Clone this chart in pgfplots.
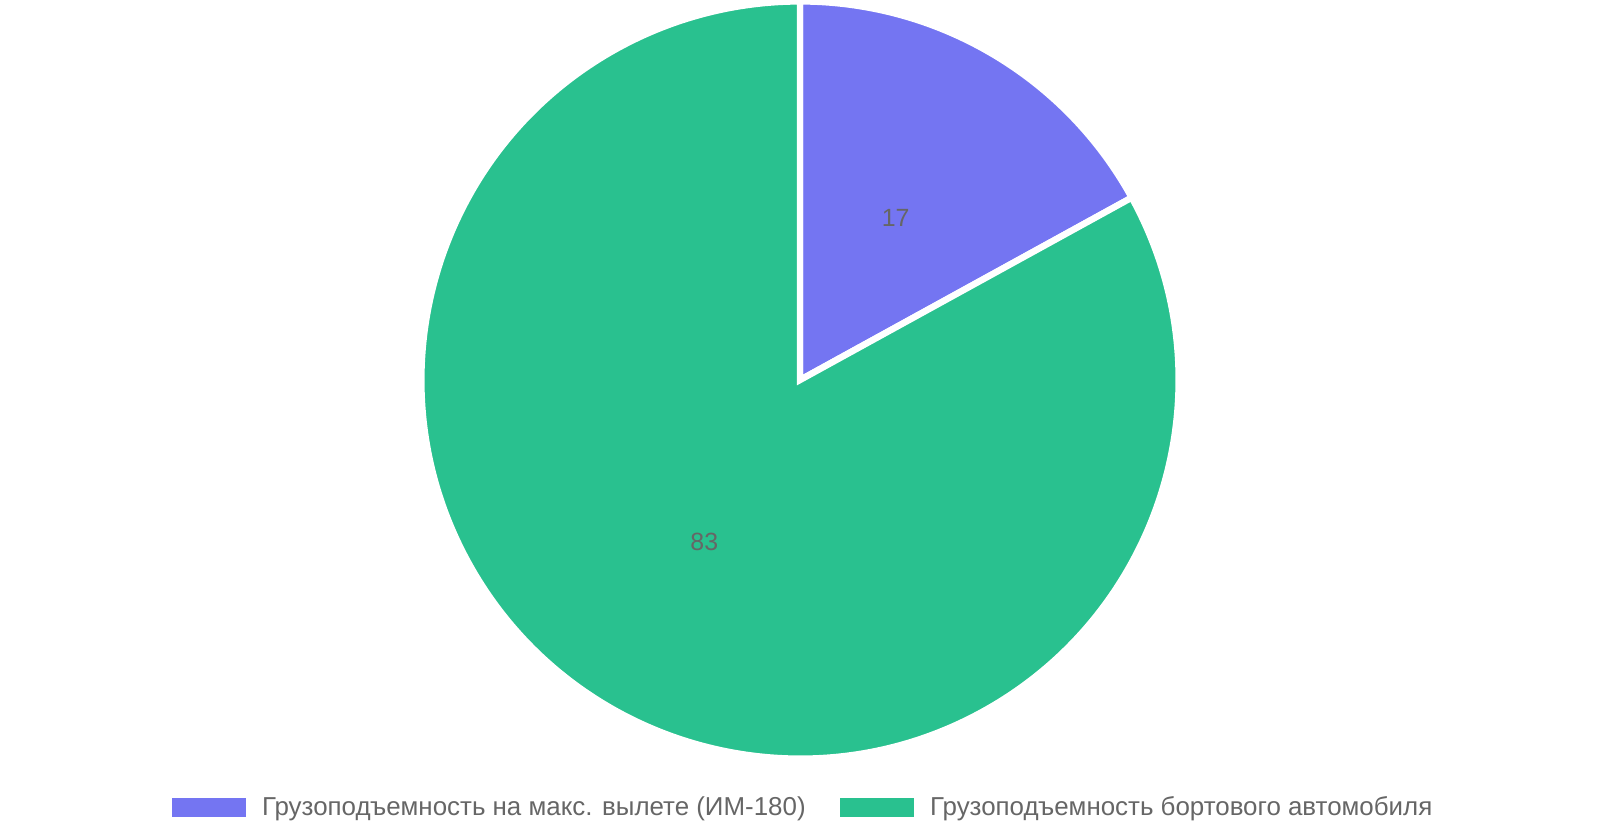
\documentclass[border=0pt]{standalone}
\usepackage{pgfplots}
\usepackage{pgfplotstable}
\pgfplotsset{compat=1.18}
\usepackage{fontspec}
\setmainfont{Liberation Sans}

\definecolor{slicepurple}{RGB}{116,117,242}
\definecolor{slicegreen}{RGB}{41,193,143}
\definecolor{labelgray}{RGB}{102,102,102}

% pie shares, in per cent
\pgfplotstableread{
share
17
83
}\piedata

\begin{document}
\begin{tikzpicture}
\useasboundingbox (0,0) rectangle (800bp,420bp);
\pgfplotstablegetelem{0}{share}\of\piedata \let\valA\pgfplotsretval
\pgfplotstablegetelem{1}{share}\of\piedata \let\valB\pgfplotsretval
\pgfmathsetmacro\total{\valA+\valB}
\pgfmathsetmacro\angA{90-\valA/\total*360}
\pgfmathsetmacro\angB{\angA-\valB/\total*360}
\pgfmathsetmacro\midA{(90+\angA)/2}
\pgfmathsetmacro\midB{(\angA+\angB)/2}
\def\rad{189.3bp}
\begin{axis}[
  at={(0,0)}, anchor=south west,
  scale only axis, width=800bp, height=420bp,
  xmin=0, xmax=1600, ymin=0, ymax=840,
  hide axis, clip=false,
  legend columns=2,
  legend style={at={(axis cs:804,32.5)}, anchor=center, draw=none, fill=none,
    font=\fontsize{13}{15}\selectfont, text=labelgray,
    /tikz/every even column/.append style={column sep=15bp}},
  legend image code/.code={\fill[#1, draw=none] (0bp,-4.75bp) rectangle (37bp,4.75bp);
    \path (43bp,0);},
]
\filldraw[fill=slicepurple, draw=white, line width=3.2bp]
  (axis cs:800,460) -- ++(90:\rad) arc[start angle=90, end angle=\angA, radius=\rad] -- cycle;
\filldraw[fill=slicegreen, draw=white, line width=3.2bp]
  (axis cs:800,460) -- ++(\angA:\rad) arc[start angle=\angA, end angle=\angB, radius=\rad] -- cycle;
\node[text=labelgray, font=\fontsize{12.5}{14}\selectfont, shift={(\midA:94bp)}] at (axis cs:800,460) {\valA};
\node[text=labelgray, font=\fontsize{12.5}{14}\selectfont, shift={(\midB:94bp)}] at (axis cs:800,460) {\valB};
\addlegendimage{fill=slicepurple}
\addlegendentry{Грузоподъемность на макс. вылете (ИМ-180)}
\addlegendimage{fill=slicegreen}
\addlegendentry{Грузоподъемность бортового автомобиля}
\end{axis}
\end{tikzpicture}
\end{document}
